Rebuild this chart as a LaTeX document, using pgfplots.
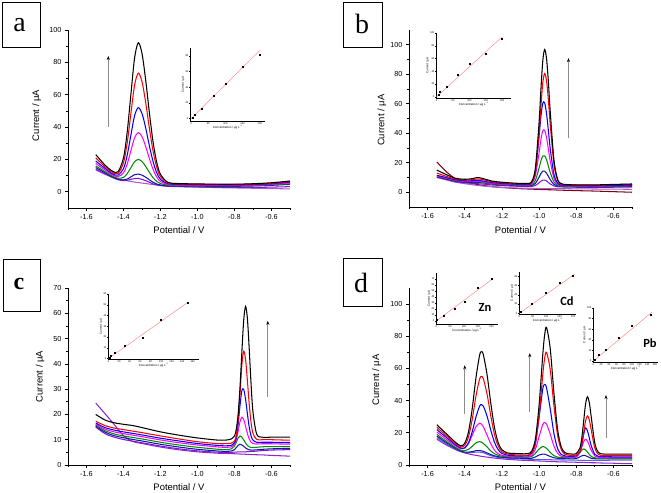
\documentclass[border=0pt]{standalone}
\usepackage{fontspec}
\setmainfont{Liberation Sans}
\newfontfamily\serifl{Liberation Serif}
\newfontfamily\calib{Carlito}
\usepackage{pgfplots}
\pgfplotsset{compat=1.18}
\usepackage{pgfplotstable}
\usetikzlibrary{arrows.meta}

\definecolor{cgreen}{RGB}{0,140,0}
\definecolor{cnavy}{RGB}{20,20,170}
\definecolor{cpurp}{RGB}{130,20,210}
\definecolor{clav}{RGB}{170,90,210}
\definecolor{cviol}{RGB}{140,40,200}
\definecolor{cmaroon}{RGB}{130,0,20}
\definecolor{cmag}{RGB}{255,0,255}
\definecolor{cfit}{RGB}{255,140,140}
\definecolor{ccorn}{RGB}{90,90,230}

\pgfplotstableread{
x k r b m g n p l
-1.55 23.0 21.0 19.0 17.5 16.0 15.0 14.0 13.5
-1.50 16.5 15.5 14.5 13.5 12.5 11.8 11.2 10.8
-1.46 12.8 12.0 11.1 10.4 9.7 9.2 8.9 9.0
-1.43 12.3 11.3 10.3 9.4 8.4 7.8 7.5 8.0
-1.40 21.0 17.9 14.3 11.7 8.9 7.3 6.9 7.2
-1.38 36.9 30.2 22.6 17.1 11.2 7.9 7.1 6.8
-1.36 60.2 48.4 35.1 25.4 14.9 9.2 7.7 6.4
-1.34 82.8 66.0 47.1 33.4 18.6 10.6 8.2 6.0
-1.32 92.1 73.3 52.0 36.6 20.0 11.0 8.3 5.7
-1.30 85.5 68.1 48.4 34.1 18.7 10.3 7.7 5.4
-1.28 69.0 55.1 39.4 28.0 15.7 9.0 6.9 5.1
-1.26 48.7 39.2 28.4 20.5 12.0 7.4 5.9 4.8
-1.24 30.7 25.0 18.6 13.8 8.7 5.9 4.9 4.5
-1.22 18.1 15.1 11.7 9.1 6.4 4.8 4.2 4.3
-1.20 10.8 9.4 7.7 6.4 5.1 4.2 3.8 4.1
-1.16 5.9 5.5 5.0 4.5 4.1 3.7 3.4 3.7
-1.10 5.1 4.9 4.6 4.2 3.9 3.6 3.2 3.3
-1.00 4.9 4.7 4.4 4.1 3.8 3.5 3.0 2.9
-0.90 4.7 4.5 4.3 4.0 3.7 3.4 2.8 2.6
-0.80 4.7 4.5 4.3 4.0 3.7 3.4 2.7 2.4
-0.70 5.0 4.8 4.5 4.2 3.9 3.6 2.7 2.2
-0.60 5.6 5.3 5.0 4.6 4.3 4.0 2.9 2.0
-0.50 6.7 6.3 6.0 5.5 5.0 4.6 3.2 1.8
}\tabA

\pgfplotstableread{
x k r b m g n p l o
-1.55 15.0 13.0 11.5 11.0 10.7 10.5 10.2 10.0 20.5
-1.50 12.0 10.8 10.0 9.6 9.3 9.0 8.7 8.4 14.0
-1.45 9.5 9.0 8.5 8.2 7.9 7.6 7.2 6.8 9.2
-1.40 8.8 8.3 7.8 7.5 7.2 6.9 6.4 5.8 7.0
-1.36 9.2 8.5 7.8 7.3 7.0 6.6 6.0 5.1 5.9
-1.33 10.0 9.0 8.0 7.5 7.1 6.6 5.8 4.6 5.2
-1.30 9.2 8.5 7.6 7.1 6.7 6.3 5.5 4.2 4.6
-1.25 7.5 7.0 6.5 6.1 5.8 5.5 4.9 3.7 3.8
-1.20 6.8 6.4 6.0 5.6 5.3 5.0 4.5 3.3 3.2
-1.15 6.3 6.0 5.6 5.3 5.0 4.7 4.2 3.0 2.8
-1.10 6.0 5.7 5.3 5.0 4.7 4.4 4.0 2.8 2.4
-1.06 6.0 5.7 5.1 4.9 4.6 4.3 3.9 2.7 2.2
-1.04 7.2 6.6 6.6 5.8 5.0 4.5 3.9 2.6 2.1
-1.02 16.3 14.2 13.8 11.3 8.0 6.0 4.6 2.6 2.0
-1.00 47.5 39.9 37.9 26.7 16.4 10.2 6.4 2.5 1.9
-0.99 70.1 58.5 51.6 35.8 21.4 12.7 7.5 2.5 1.85
-0.98 89.2 74.3 60.4 41.7 24.6 14.3 8.2 2.5 1.8
-0.97 96.8 80.5 60.6 41.9 24.7 14.3 8.2 2.5 1.8
-0.96 90.7 75.6 53.5 37.1 22.1 13.0 7.7 2.5 1.75
-0.95 74.9 62.5 41.9 29.3 17.8 10.8 6.6 2.5 1.7
-0.94 54.7 45.9 29.5 21.1 13.4 8.5 5.6 2.5 1.7
-0.92 22.0 18.9 12.1 9.5 7.0 5.3 4.3 2.5 1.6
-0.90 8.7 7.9 6.1 5.4 4.7 4.2 3.7 2.5 1.5
-0.88 5.8 5.5 4.9 4.5 4.2 3.9 3.6 2.4 1.4
-0.85 5.2 5.0 4.7 4.4 4.1 3.8 3.5 2.4 1.3
-0.80 5.0 4.9 4.5 4.3 4.0 3.7 3.4 2.3 1.1
-0.70 5.0 4.8 4.4 4.2 3.9 3.6 3.3 2.2 0.8
-0.60 5.3 5.1 4.6 4.4 4.1 3.8 3.4 2.1 0.4
-0.50 5.6 5.4 4.9 4.6 4.3 4.0 3.5 2.0 0.0
}\tabB

\pgfplotstableread{
x k r b m g n q v
-1.55 20.0 17.3 16.6 16.2 15.8 15.4 15.0 24.5
-1.50 17.8 15.6 14.8 14.2 13.6 13.0 12.4 20.3
-1.45 16.7 14.6 13.8 13.1 12.3 11.6 11.0 16.0
-1.40 16.1 14.0 13.1 12.4 11.5 10.8 10.1 11.6
-1.35 15.6 13.4 12.5 11.8 10.9 10.1 9.4 9.3
-1.30 14.8 12.8 11.9 11.2 10.3 9.5 8.8 8.5
-1.20 13.1 11.5 10.6 9.9 9.0 8.2 7.5 7.1
-1.10 11.8 10.3 9.5 8.8 7.9 7.1 6.4 6.0
-1.00 10.7 9.2 8.5 7.9 7.0 6.2 5.6 5.2
-0.90 9.9 8.5 7.8 7.2 6.3 5.6 5.1 4.7
-0.86 9.8 8.4 7.6 7.0 6.1 5.4 5.0 4.6
-0.84 9.9 8.5 7.6 7.0 6.1 5.4 5.0 4.55
-0.82 10.2 8.6 7.7 7.1 6.3 5.5 5.0 4.5
-0.80 11.5 9.5 8.8 8.2 7.5 6.1 5.1 4.45
-0.79 14.3 11.9 11.2 10.1 9.0 6.9 5.1 4.4
-0.78 20.4 17.9 16.4 13.5 10.7 7.8 5.2 4.4
-0.77 31.1 28.3 23.7 17.2 11.5 8.2 5.2 4.35
-0.76 45.0 39.8 29.5 18.9 11.0 7.9 5.2 4.3
-0.75 57.5 45.0 29.8 17.9 9.9 7.4 5.2 4.3
-0.74 62.7 41.6 25.9 15.3 8.6 6.7 5.2 4.25
-0.73 57.7 33.1 20.1 12.4 7.7 6.3 5.3 4.2
-0.72 45.3 23.7 14.8 10.2 7.2 6.0 5.3 4.2
-0.71 31.5 16.5 11.4 9.0 6.9 5.9 5.4 4.15
-0.70 20.9 12.5 9.8 8.5 6.9 5.9 5.4 4.1
-0.68 12.2 10.1 9.0 8.3 7.0 6.0 5.5 4.05
-0.65 11.0 10.0 9.0 8.4 7.2 6.2 5.7 4.0
-0.60 11.0 10.0 9.0 8.4 7.3 6.4 5.9 3.8
-0.55 11.0 9.9 8.9 8.3 7.3 6.5 6.0 3.65
-0.50 11.0 9.8 8.9 8.3 7.3 6.6 6.1 3.5
}\tabC

\pgfplotstableread{
x k r b m g n p v
-1.55 25.0 23.5 22.0 20.5 19.0 18.0 17.0 16.0
-1.50 19.5 18.3 17.2 16.0 14.8 14.0 13.2 12.5
-1.45 14.1 13.3 12.6 11.9 11.0 10.4 9.9 9.6
-1.42 11.9 11.2 10.5 10.0 9.1 8.6 8.4 8.2
-1.40 13.6 12.3 10.7 10.5 8.9 8.0 7.75 7.5
-1.38 20.5 17.4 13.8 13.3 9.7 8.0 7.6 6.9
-1.36 34.9 28.2 20.6 18.4 11.6 8.3 7.7 6.4
-1.34 53.9 42.7 29.7 23.7 13.7 8.9 8.0 6.0
-1.32 68.3 53.5 36.6 26.0 14.5 9.0 8.0 5.6
-1.31 70.4 55.0 37.5 25.4 14.2 8.8 7.8 5.4
-1.30 68.6 53.6 36.6 23.8 13.4 8.5 7.6 5.2
-1.28 56.2 44.1 30.4 18.6 11.2 7.5 6.7 4.9
-1.26 38.5 30.6 21.7 13.2 8.8 6.5 5.8 4.6
-1.24 23.3 18.9 14.1 9.2 7.0 5.7 5.2 4.3
-1.22 13.9 11.8 9.5 7.0 6.0 5.2 4.7 4.0
-1.20 9.5 8.3 7.2 6.0 5.4 4.8 4.4 3.8
-1.17 7.5 6.8 6.1 5.5 5.1 4.6 4.2 3.5
-1.14 7.2 6.4 5.8 5.3 4.9 4.4 4.0 3.3
-1.10 7.0 6.2 5.6 5.1 4.7 4.2 3.8 3.0
-1.06 7.1 6.2 5.8 5.1 4.7 4.1 3.6 2.8
-1.04 8.6 7.4 7.3 6.1 5.3 4.2 3.5 2.7
-1.02 16.1 13.6 13.0 9.8 7.2 5.0 3.5 2.6
-1.00 37.2 30.7 29.5 17.6 10.0 6.2 3.4 2.5
-0.98 68.8 56.4 47.4 25.2 11.5 6.8 3.4 2.4
-0.97 80.9 66.3 50.0 26.5 11.2 6.7 3.4 2.4
-0.96 85.5 70.0 48.0 25.5 10.3 6.3 3.3 2.3
-0.94 72.3 59.2 34.9 19.2 7.9 5.3 3.3 2.2
-0.92 44.6 36.7 19.5 11.7 5.8 4.5 3.2 2.1
-0.90 21.8 18.2 10.1 7.2 4.9 4.1 3.2 2.0
-0.88 11.0 9.4 6.5 5.4 4.6 3.9 3.1 2.0
-0.86 7.6 6.6 5.6 5.0 4.5 3.9 3.1 1.9
-0.84 6.9 6.1 5.4 4.9 4.5 3.9 3.0 1.8
-0.82 6.8 5.9 5.2 4.7 4.3 3.8 3.0 1.8
-0.80 7.1 6.1 5.8 5.05 4.9 4.0 3.0 1.7
-0.78 10.7 8.6 8.3 7.9 7.6 5.1 2.9 1.6
-0.77 17.0 13.0 12.5 11.2 9.3 5.7 2.9 1.6
-0.76 27.3 20.0 19.0 14.5 10.0 6.0 2.9 1.6
-0.75 37.8 27.3 23.0 16.0 9.4 5.8 2.9 1.5
-0.74 42.4 30.5 21.3 14.9 8.1 5.3 2.9 1.5
-0.73 38.9 28.1 17.0 12.2 6.6 4.7 2.9 1.5
-0.72 30.4 22.2 12.2 9.2 5.4 4.2 2.9 1.4
-0.70 13.6 10.6 6.6 5.6 4.4 3.9 2.9 1.4
-0.68 7.7 6.5 5.3 4.8 4.3 3.8 2.9 1.3
-0.65 6.8 5.8 5.2 4.7 4.3 3.8 2.9 1.2
-0.60 6.8 5.8 5.1 4.6 4.2 3.8 3.0 1.1
-0.55 6.8 5.8 5.1 4.6 4.2 3.8 3.0 0.9
-0.50 6.8 5.8 5.1 4.6 4.2 3.8 3.1 0.8
}\tabD

\tikzset{arr/.style={line width=0.9pt, black!45, -{Stealth[length=4pt,width=3pt,color=black]}}}

\pgfplotsset{
  every non boxed x axis/.style={},
  every non boxed y axis/.style={},
  mainax/.style={
    anchor=south west, scale only axis, axis lines=left,
    axis line style={-, line width=0.7pt},
    tick align=outside, tick style={black, line width=0.7pt},
    major tick length=3bp, minor tick length=1.8bp,
    xmin=-1.7, xmax=-0.5, enlargelimits=false,
    xtick={-1.6,-1.4,-1.2,-1.0,-0.8,-0.6},
    minor xtick={-1.7,-1.5,-1.3,-1.1,-0.9,-0.7,-0.5},
    minor y tick num=1,
    xticklabel style={/pgf/number format/.cd, fixed, fixed zerofill, precision=1},
    tick label style={font=\fontsize{7.3}{8}\selectfont, /pgf/number format/assume math mode=true},
    label style={font=\fontsize{9.5}{10}\selectfont},
    xlabel={Potential / V}, ylabel={Current / μA},
    xlabel style={anchor=center}, ylabel style={anchor=center},
    every axis plot/.append style={smooth, line width=1.05pt, mark=none},
  },
  inset/.style={
    anchor=south west, scale only axis, axis lines=left,
    axis line style={-, line width=0.3pt},
    tick align=outside, tick style={black, line width=0.3pt},
    major tick length=1bp, enlargelimits=false, clip=false,
    tick label style={font=\fontsize{2.6}{3}\selectfont, inner sep=0.4pt, /pgf/number format/assume math mode=true},
    label style={font=\fontsize{3}{3.5}\selectfont, inner sep=0.5pt},
    xlabel={Concentration / μg L\textsuperscript{-1}}, ylabel={Current / μA},
  },
}

\begin{document}
\begin{tikzpicture}
\path[use as bounding box] (0,0) rectangle (661bp,493bp);

% ---------- panel a ----------
\begin{axis}[mainax, at={(68bp,285bp)}, width=222bp, height=178bp,
  ymin=-10, ymax=100, ytick={0,20,...,100},
  ylabel style={at={(axis description cs:-0.141,0.52)}},
  xlabel style={at={(axis description cs:0.5,-0.124)}}]
\addplot[clav] table[x=x,y=l]{\tabA};
\addplot[cpurp] table[x=x,y=p]{\tabA};
\addplot[cnavy] table[x=x,y=n]{\tabA};
\addplot[cgreen] table[x=x,y=g]{\tabA};
\addplot[cmag] table[x=x,y=m]{\tabA};
\addplot[blue] table[x=x,y=b]{\tabA};
\addplot[red] table[x=x,y=r]{\tabA};
\addplot[black] table[x=x,y=k]{\tabA};
\draw[arr] (axis cs:-1.482,40) -- (axis cs:-1.482,84);
\end{axis}

% ---------- panel b ----------
\begin{axis}[mainax, at={(409bp,286bp)}, width=223bp, height=177bp,
  ymin=-10, ymax=110, ytick={0,20,...,100},
  ylabel style={at={(axis description cs:-0.122,0.49)}},
  xlabel style={at={(axis description cs:0.5,-0.13)}}]
\addplot[cmaroon] table[x=x,y=o]{\tabB};
\addplot[clav] table[x=x,y=l]{\tabB};
\addplot[cpurp] table[x=x,y=p]{\tabB};
\addplot[cnavy] table[x=x,y=n]{\tabB};
\addplot[cgreen] table[x=x,y=g]{\tabB};
\addplot[cmag] table[x=x,y=m]{\tabB};
\addplot[blue] table[x=x,y=b]{\tabB};
\addplot[red] table[x=x,y=r]{\tabB};
\addplot[black] table[x=x,y=k]{\tabB};
\draw[arr] (axis cs:-0.842,37) -- (axis cs:-0.842,91);
\end{axis}

% ---------- panel c ----------
\begin{axis}[mainax, at={(68bp,28bp)}, width=222bp, height=177bp,
  ymin=0, ymax=70, ytick={0,10,...,70},
  ylabel style={at={(axis description cs:-0.126,0.5)}},
  xlabel style={at={(axis description cs:0.5,-0.123)}}]
\addplot[cviol] table[x=x,y=v]{\tabC};
\addplot[cpurp] table[x=x,y=q]{\tabC};
\addplot[cnavy] table[x=x,y=n]{\tabC};
\addplot[cgreen] table[x=x,y=g]{\tabC};
\addplot[cmag] table[x=x,y=m]{\tabC};
\addplot[blue] table[x=x,y=b]{\tabC};
\addplot[red] table[x=x,y=r]{\tabC};
\addplot[black] table[x=x,y=k]{\tabC};
\draw[arr] (axis cs:-0.62,27) -- (axis cs:-0.62,57);
\end{axis}

% ---------- panel d ----------
\begin{axis}[mainax, at={(409bp,28bp)}, width=223bp, height=177bp,
  ymin=0, ymax=110, ytick={0,20,...,100},
  ylabel style={at={(axis description cs:-0.145,0.48)}},
  xlabel style={at={(axis description cs:0.5,-0.123)}}]
\addplot[cviol] table[x=x,y=v]{\tabD};
\addplot[ccorn] table[x=x,y=p]{\tabD};
\addplot[cnavy] table[x=x,y=n]{\tabD};
\addplot[cgreen] table[x=x,y=g]{\tabD};
\addplot[cmag] table[x=x,y=m]{\tabD};
\addplot[blue] table[x=x,y=b]{\tabD};
\addplot[red] table[x=x,y=r]{\tabD};
\addplot[black] table[x=x,y=k]{\tabD};
\draw[arr] (axis cs:-1.40,32) -- (axis cs:-1.40,62);
\draw[arr] (axis cs:-1.05,33) -- (axis cs:-1.05,69.5);
\draw[arr] (axis cs:-0.64,17) -- (axis cs:-0.64,43.5);
\end{axis}

% ---------- insets ----------
\begin{axis}[inset, at={(190bp,372bp)}, width=75bp, height=73bp,
  xmin=-3, xmax=215, ymin=-3, ymax=90, xtick={0,50,...,200}, ytick={0,20,...,80}]
\addplot[cfit, line width=0.5pt] coordinates {(0,0) (200,87)};
\addplot[only marks, mark=square*, mark size=0.5pt, black] coordinates {(5,1.5) (10,4.5) (30,13) (65,29) (100,44.5) (150,66) (200,82)};
\end{axis}

\begin{axis}[inset, at={(436bp,395bp)}, width=75bp, height=65bp,
  xmin=-2, xmax=227, ymin=-2, ymax=100, xtick={0,50,...,200}, ytick={0,20,...,100}]
\addplot[cfit, line width=0.5pt] coordinates {(0,0) (200,94)};
\addplot[only marks, mark=square*, mark size=0.5pt, black] coordinates {(5,3) (10,8) (30,16) (65,34) (100,52) (150,67) (200,91)};
\end{axis}

\begin{axis}[inset, at={(108bp,134bp)}, width=91bp, height=65bp,
  xmin=-1, xmax=172, ymin=-0.5, ymax=60, xtick={0,20,...,160}, ytick={0,10,...,60}]
\addplot[cfit, line width=0.5pt] coordinates {(0,0) (150,52)};
\addplot[only marks, mark=square*, mark size=0.5pt, black] coordinates {(1.3,0.6) (5,2.2) (11,5.2) (30,11.7) (65,19.7) (100,36.3) (150,51.7)};
\end{axis}

\begin{axis}[inset, at={(436bp,169bp)}, width=62bp, height=51bp,
  xmin=-1, xmax=223, ymin=-5, ymax=80, xtick={0,50,...,200}, ytick={0,10,...,70}]
\addplot[cfit, line width=0.5pt] coordinates {(0,0) (203,70)};
\addplot[only marks, mark=square*, mark size=0.5pt, black] coordinates {(2,1.7) (28,8.9) (65,21) (101,32) (150,55) (201,69.8)};
\end{axis}

\begin{axis}[inset, at={(519bp,179bp)}, width=57bp, height=42bp,
  xmin=-1, xmax=211, ymin=-1.5, ymax=89, xtick={0,50,...,200}, ytick={0,20,...,80}]
\addplot[cfit, line width=0.5pt] coordinates {(0,0) (205,84)};
\addplot[only marks, mark=square*, mark size=0.5pt, black] coordinates {(6,3.6) (47,21) (98,44) (150,65) (200,81)};
\end{axis}

\begin{axis}[inset, at={(593bp,131bp)}, width=65bp, height=54bp,
  xmin=-1, xmax=168, ymin=-2, ymax=100, xtick={0,20,...,160}, ytick={0,20,...,100}]
\addplot[cfit, line width=0.5pt] coordinates {(0,0) (152,92)};
\addplot[only marks, mark=square*, mark size=0.5pt, black] coordinates {(4,2.6) (13,11) (31,22) (65,43) (99,67) (150,88)};
\end{axis}

% ---------- element labels ----------
\node[font=\calib\bfseries\fontsize{12.5}{14}\selectfont] at (485bp,186bp) {Zn};
\node[font=\calib\bfseries\fontsize{12.5}{14}\selectfont] at (567bp,192bp) {Cd};
\node[font=\calib\bfseries\fontsize{12.5}{14}\selectfont] at (650bp,150bp) {Pb};

% ---------- panel letters ----------
\draw[line width=0.8pt] (2bp,446bp) rectangle (40bp,491bp);
\node[font=\serifl\fontsize{28}{30}\selectfont] at (19.5bp,467.5bp) {a};
\draw[line width=0.8pt] (343bp,446bp) rectangle (382bp,491bp);
\node[font=\serifl\fontsize{28}{30}\selectfont] at (362bp,469.5bp) {b};
\draw[line width=0.8pt] (3bp,182bp) rectangle (40bp,234bp);
\node[font=\serifl\bfseries\fontsize{24}{26}\selectfont] at (19bp,209bp) {c};
\draw[line width=0.8pt] (343bp,187bp) rectangle (382bp,235bp);
\node[font=\serifl\fontsize{28}{30}\selectfont] at (361bp,210bp) {d};
\end{tikzpicture}
\end{document}
